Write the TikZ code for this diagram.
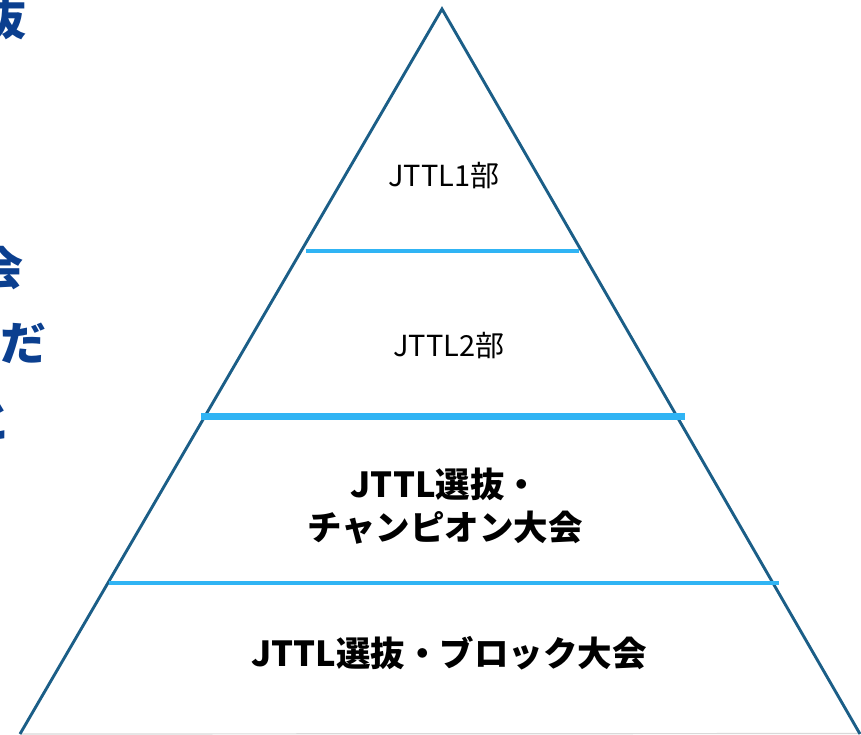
\documentclass[tikz,border=0pt]{standalone}
\usepackage{fontspec}
\setmainfont{Noto Sans CJK JP}
\usepackage{xcolor}
\definecolor{pyrblue}{HTML}{1B5E87}
\definecolor{tierblue}{HTML}{30B4F4}
\definecolor{inkblue}{HTML}{0B3F8F}
\tikzset{
 pyramid/.style={pyrblue, line width=2.9pt, line join=miter},
 tier/.style={tierblue},
 small/.style={font=\fontsize{29}{35}\selectfont},
 big/.style={font=\fontsize{34.5}{43}\selectfont\bfseries, align=center},
 side/.style={inkblue, anchor=east, inner sep=0pt, font=\fontsize{46}{50}\selectfont\bfseries}
}

\begin{document}
\begin{tikzpicture}[x=1pt,y=-1pt]
\useasboundingbox (0,0) rectangle (861,734);
\begin{scope}
\clip (0,0) rectangle (861,734);
\foreach \y/\xr/\ch/\nm in {18/27/抜/s1, 268/24/会/s2, 343/47/だ/s3, 420/12/と/s4}{
 \node [side] (\nm) at (\xr,\y) {\ch};
 }
\end{scope}
\coordinate (top) at (442,9);
\coordinate (bl) at (20,734);
\coordinate (br) at (860,734);
\draw [gray!30, line width=1.2pt] (bl) -- (861,733.5);
\draw [pyramid] (bl) -- (top) -- (br);
\foreach \y/\xa/\xb/\w in {251/306/579/3.2pt, 416/201/685/7pt, 583/109/779/3.2pt}{
 \draw [tier, line width=\w] (\xa,\y) -- (\xb,\y);
 }
\node [small] (one) at (444,176) {JTTL1部};
\node [small] (two) at (449,346) {JTTL2部};
\node [big] (champ) at (445,506) {JTTL選抜・\\チャンピオン大会};
\node [big] (block) at (449,653) {JTTL選抜・ブロック大会};
\end{tikzpicture}
\end{document}
